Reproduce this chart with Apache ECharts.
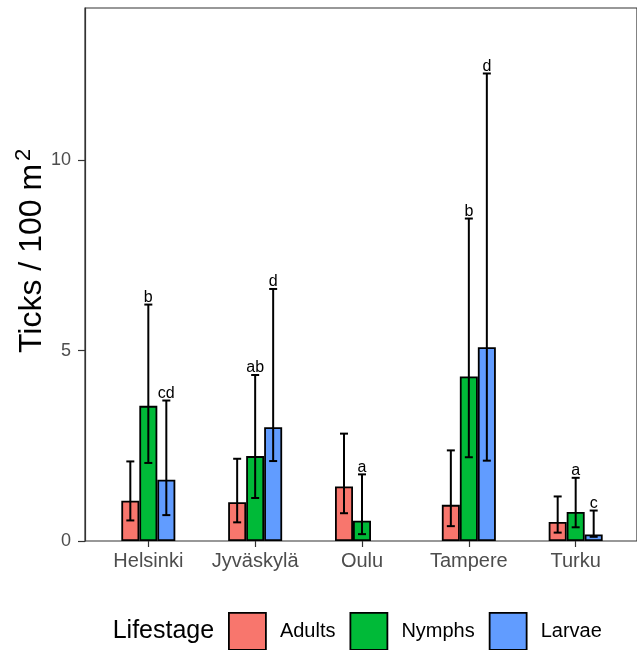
<!DOCTYPE html>
<html>
<head>
<meta charset="utf-8">
<script src="https://cdn.jsdelivr.net/npm/echarts@6/dist/echarts.min.js"></script>
<style>
html,body{margin:0;padding:0;background:#fff;}
#chart{width:637px;height:650px;}
</style>
</head>
<body>
<div id="chart"></div>
<script>
const categories = ['Helsinki', 'Jyväskylä', 'Oulu', 'Tampere', 'Turku'];
const stages = ['Adults', 'Nymphs', 'Larvae'];
const yTicks = [0, 5, 10];

const adultsMean  = [1.06, 1.02, 1.43, 0.95, 0.50];
const adultsLower = [0.54, 0.49, 0.73, 0.39, 0.22];
const adultsUpper = [2.09, 2.16, 2.82, 2.38, 1.17];
const adultsLetters = ['', '', '', '', ''];

const nymphsMean  = [3.55, 2.23, 0.53, 4.32, 0.76];
const nymphsLower = [2.05, 1.13, 0.18, 2.20, 0.36];
const nymphsUpper = [6.21, 4.36, 1.75, 8.47, 1.66];
const nymphsLetters = ['b', 'ab', 'a', 'b', 'a'];

const larvaeMean  = [1.61, 2.99, null, 5.09, 0.17];
const larvaeLower = [0.68, 2.10, null, 2.11, 0.11];
const larvaeUpper = [3.69, 6.62, null, 12.28, 0.80];
const larvaeLetters = ['cd', 'd', '', 'd', 'c'];

const FONT = '"Liberation Sans", Arial, sans-serif';
const colors = ['#F8766D', '#00BA38', '#619CFF'];
const BAR_W = 18;

const stageData = [
  {mean: adultsMean, lower: adultsLower, upper: adultsUpper, letters: adultsLetters},
  {mean: nymphsMean, lower: nymphsLower, upper: nymphsUpper, letters: nymphsLetters},
  {mean: larvaeMean, lower: larvaeLower, upper: larvaeUpper, letters: larvaeLetters}
];

const chart = echarts.init(document.getElementById('chart'), null, {renderer: 'canvas'});

const barSeries = stages.map((name, s) => ({
  name: name,
  type: 'bar',
  xAxisIndex: 1,
  yAxisIndex: 1,
  barWidth: BAR_W,
  barGap: '0%',
  data: stageData[s].mean.map(v => v === null ? '-' : v),
  itemStyle: {color: colors[s], borderColor: '#000', borderWidth: 1.8},
  emphasis: {disabled: true},
  z: 2
}));

const errSeries = stages.map((name, s) => {
  const d = stageData[s];
  const rows = [];
  const letters = [];
  categories.forEach((c, i) => {
    if (d.lower[i] !== null) {
      rows.push([i, d.lower[i], d.upper[i]]);
      letters.push(d.letters[i]);
    }
  });
  const offset = (s - 1) * BAR_W;
  return {
    name: 'err' + name,
    type: 'custom',
    xAxisIndex: 1,
    yAxisIndex: 1,
    encode: {x: 0, y: [1, 2]},
    data: rows,
    z: 5,
    silent: true,
    renderItem: function (params, api) {
      const i = api.value(0);
      const lo = api.coord([i, api.value(1)]);
      const hi = api.coord([i, api.value(2)]);
      const x = lo[0] + offset;
      const cap = 4;
      const st = {stroke: '#000', lineWidth: 2};
      const children = [
        {type: 'line', shape: {x1: x, y1: lo[1], x2: x, y2: hi[1]}, style: st},
        {type: 'line', shape: {x1: x - cap, y1: lo[1], x2: x + cap, y2: lo[1]}, style: st},
        {type: 'line', shape: {x1: x - cap, y1: hi[1], x2: x + cap, y2: hi[1]}, style: st}
      ];
      const letter = letters[params.dataIndex];
      if (letter) {
        children.push({
          type: 'text',
          x: x, y: hi[1] + 1,
          style: {text: letter, font: '16px ' + FONT, fill: '#000', align: 'center', verticalAlign: 'bottom'}
        });
      }
      return {type: 'group', children: children};
    }
  };
});

const option = {
  animation: false,
  backgroundColor: '#fff',
  grid: [
    {left: 85, right: -3, top: 8, bottom: 109, show: true, borderColor: '#333', borderWidth: 1.2, backgroundColor: 'transparent'},
    {left: 94.9, right: 7.9, top: 8, bottom: 109}
  ],
  xAxis: [
    {gridIndex: 0, type: 'value', min: 0, max: 1, show: false},
    {
      gridIndex: 1, type: 'category', data: categories,
      axisLine: {show: false},
      axisTick: {show: true, alignWithLabel: true, interval: 0, length: 6, lineStyle: {color: '#333', width: 1.2}},
      axisLabel: {color: '#4D4D4D', fontSize: 20, fontFamily: FONT, margin: 10, interval: 0, hideOverlap: false},
      splitLine: {show: false}
    }
  ],
  yAxis: [
    {
      gridIndex: 0, type: 'value', min: 0, max: 14, interval: 5,
      axisLine: {show: true, lineStyle: {color: '#333', width: 1.2}},
      axisTick: {show: true, length: 7, lineStyle: {color: '#333', width: 1.2}, customValues: yTicks},
      axisLabel: {color: '#4D4D4D', fontSize: 18, fontFamily: FONT, margin: 14, customValues: yTicks},
      splitLine: {show: false}
    },
    {gridIndex: 1, type: 'value', min: 0, max: 14, show: false}
  ],
  legend: {
    data: stages,
    left: 228, top: 612, padding: 0,
    itemWidth: 37, itemHeight: 37, itemGap: 14,
    icon: 'rect',
    itemStyle: {borderColor: '#000', borderWidth: 1.8},
    textStyle: {fontSize: 20, color: '#000', fontFamily: FONT, padding: [0, 0, 0, 9]},
    selectedMode: false
  },
  graphic: [
    {type: 'text', x: 112.7, y: 631, silent: true,
      style: {text: 'Lifestage', font: '25px ' + FONT, fill: '#000', align: 'left', verticalAlign: 'middle'}},
    {type: 'text', x: 32, y: 353, rotation: Math.PI / 2, silent: true,
      style: {text: 'Ticks / 100 m', font: '32px ' + FONT, fill: '#000', align: 'left', verticalAlign: 'middle'}},
    {type: 'text', x: 24, y: 155, rotation: Math.PI / 2, silent: true,
      style: {text: '2', font: '22px ' + FONT, fill: '#000', align: 'center', verticalAlign: 'middle'}}
  ],
  series: barSeries.concat(errSeries)
};
chart.setOption(option);
</script>
</body>
</html>
